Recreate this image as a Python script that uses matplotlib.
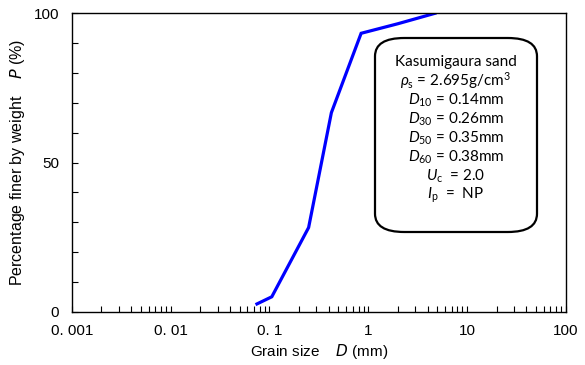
import numpy as np
import matplotlib
matplotlib.use("Agg")
from matplotlib import pyplot as plt
from matplotlib.patches import FancyBboxPatch
from matplotlib.ticker import FixedLocator, LogLocator, NullFormatter

# grading curve of the sand
grain_size = [0.075, 0.106, 0.25, 0.425, 0.85, 2.0, 4.75]
percent_finer = [2.6, 5.0, 28.2, 66.7, 93.3, 96.5, 100.0]

x_ticks = [0.001, 0.01, 0.1, 1, 10, 100]
x_labels = ["0. 001", "0. 01", "0. 1", "1", "10", "100"]
y_ticks = [0, 50, 100]

props = [
    "Kasumigaura sand",
    r"$\rho_{\rm s}$ = 2.695g/cm$^3$",
    r"$D_{10}$ = 0.14mm",
    r"$D_{30}$ = 0.26mm",
    r"$D_{50}$ = 0.35mm",
    r"$D_{60}$ = 0.38mm",
    r"$U_{\rm c}$  = 2.0",
    r"$I_{\rm p}$  =  NP",
]

plt.rcParams["font.family"] = ["Liberation Sans", "DejaVu Sans"]
plt.rcParams["mathtext.fontset"] = "custom"
plt.rcParams["mathtext.rm"] = "Lato"
plt.rcParams["mathtext.it"] = "Lato:italic"

fig = plt.figure(figsize=(5.85, 3.65), dpi=100)
ax = fig.add_axes([71.7 / 585, 1 - 311.7 / 365, 494 / 585, 298.4 / 365])

ax.plot(grain_size, percent_finer, color="#0000ff", linewidth=2.3, solid_joinstyle="miter")

ax.set_xscale("log")
ax.set_xlim(0.001, 100)
ax.set_ylim(0, 100)
ax.xaxis.set_major_locator(FixedLocator(x_ticks))
ax.set_xticklabels(x_labels)
ax.xaxis.set_minor_locator(LogLocator(base=10, subs=np.arange(2, 10)))
ax.xaxis.set_minor_formatter(NullFormatter())
ax.set_yticks(y_ticks)
ax.yaxis.set_minor_locator(FixedLocator(np.arange(10, 100, 10)))

ax.tick_params(which="both", direction="in", top=False, right=False, labelsize=11)
ax.tick_params(which="both", length=4, width=0.8)
ax.tick_params(axis="x", pad=9)
ax.tick_params(axis="y", pad=9)
for s in ax.spines.values():
    s.set_linewidth(1.0)

ax.set_xlabel("Grain size    $\\it{D}$ (mm)", fontsize=11, labelpad=3)
ax.set_ylabel("Percentage finer by weight    $\\it{P}$ (%)", fontsize=11.5, labelpad=5)
ax.xaxis.label.set_math_fontfamily("dejavusans")
ax.yaxis.label.set_math_fontfamily("dejavusans")

# rounded box with soil properties
box = FancyBboxPatch((375 / 585, 1 - 232 / 365), 162 / 585, 194 / 365,
                     boxstyle="round,pad=0,rounding_size=0.05",
                     transform=fig.transFigure, facecolor="white",
                     edgecolor="black", linewidth=1.6, zorder=5)
fig.patches.append(box)

for i, line in enumerate(props):
    y = 61.7 + i * 19.1
    fig.text(456 / 585, 1 - y / 365, line, ha="center", va="center",
             fontsize=11, family="Lato", zorder=6)

fig.savefig("out.png", dpi=100)
